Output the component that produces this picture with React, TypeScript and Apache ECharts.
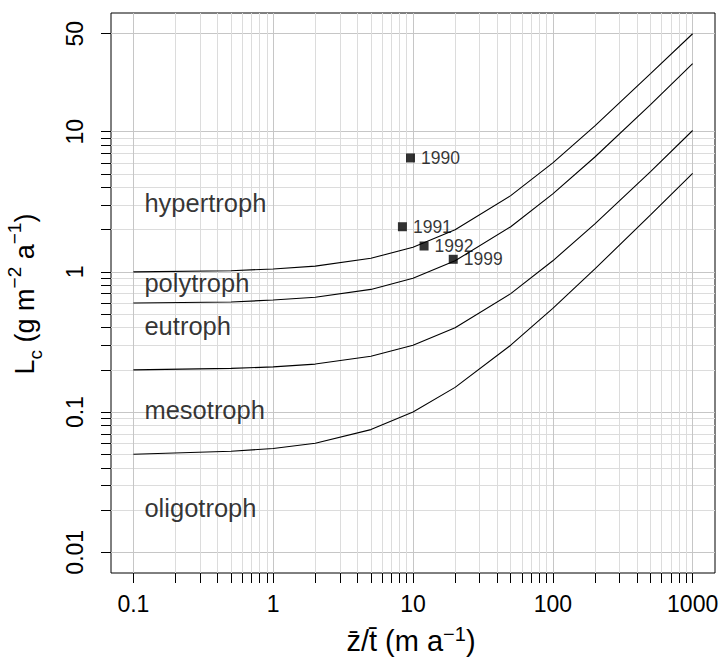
import React, { useEffect, useRef } from "react";
import * as echarts from "echarts";

// ---- data ----
const xPts = [0.1, 0.5, 1, 2, 5, 10, 20, 50, 100, 200, 500, 1000];
const hyperPoly = [1.0, 1.02, 1.05, 1.1, 1.25, 1.5, 2.0, 3.5, 6.0, 11, 26, 50];
const polyEu = [0.6, 0.61, 0.63, 0.66, 0.75, 0.9, 1.2, 2.1, 3.6, 6.6, 15.6, 30.6];
const euMeso = [0.2, 0.205, 0.21, 0.22, 0.25, 0.3, 0.4, 0.7, 1.2, 2.2, 5.2, 10.2];
const mesoOligo = [0.05, 0.0525, 0.055, 0.06, 0.075, 0.1, 0.15, 0.3, 0.55, 1.05, 2.55, 5.05];

const obsYears = ["1990", "1991", "1992", "1999"];
const obsX = [9.6, 8.4, 12.0, 19.4];
const obsY = [6.5, 2.1, 1.53, 1.23];

const zoneNames = ["hypertroph", "polytroph", "eutroph", "mesotroph", "oligotroph"];
const zoneX = [0.12, 0.12, 0.12, 0.12, 0.12];
const zoneY = [3, 0.8, 0.4, 0.1, 0.02];

const xTickLabels = [0.1, 1, 10, 100, 1000];
const yTickLabels = [0.01, 0.1, 1, 10, 50];
const xDecades = [0.1, 1, 10, 100];
const yDecades = [0.01, 0.1, 1];
const multipliers = [1, 2, 3, 4, 5, 6, 7, 8, 9];

const clean = (v: number) => +v.toPrecision(6);
const xTicksAll = [...xDecades.flatMap((d) => multipliers.map((m) => clean(m * d))), 1000];
const yTicksAll = [...yDecades.flatMap((d) => multipliers.map((m) => clean(m * d))), 10, 50];

// R-style 4% axis extension in log space
const ext = (lo: number, hi: number) => {
  const a = Math.log10(lo);
  const b = Math.log10(hi);
  const p = 0.04 * (b - a);
  return [Math.pow(10, a - p), Math.pow(10, b + p)];
};
const [xMin, xMax] = ext(0.1, 1000);
const [yMin, yMax] = ext(0.01, 50);

const FONT = "'Liberation Sans', Arial, Helvetica, sans-serif";
const fmt = (v: number) => String(+Number(v).toPrecision(4));

export default function App() {
  const ref = useRef<HTMLDivElement>(null);
  useEffect(() => {
    if (!ref.current) return;
    const chart = echarts.init(ref.current, null, { renderer: "svg" });
    const lineSeries = (name: string, arr: number[]) => ({
      type: "line",
      name,
      xAxisIndex: 0,
      yAxisIndex: 0,
      data: xPts.map((x, i) => [x, arr[i]]),
      symbol: "none",
      lineStyle: { color: "#000", width: 1.1 },
      z: 3,
    });
    const mkX = (major: boolean) => ({
      type: "log",
      logBase: 10,
      min: xMin,
      max: xMax,
      gridIndex: 0,
      position: "bottom",
      axisLine: { show: false },
      axisTick: major
        ? { show: true, length: 10, customValues: xTicksAll, lineStyle: { color: "#000", width: 1 } }
        : { show: false, customValues: xTickLabels },
      axisLabel: major
        ? {
            show: true,
            customValues: xTickLabels,
            formatter: fmt,
            fontSize: 23,
            fontFamily: FONT,
            color: "#000",
            margin: 19,
          }
        : { show: false },
      splitLine: { show: true, lineStyle: { color: major ? "#dcdcdc" : "#c6c6c6", width: 1 } },
      minorTick: { show: false },
      minorSplitLine: { show: false },
    });
    const mkY = (major: boolean) => ({
      type: "log",
      logBase: 10,
      min: yMin,
      max: yMax,
      gridIndex: 0,
      position: "left",
      axisLine: { show: false },
      axisTick: major
        ? { show: true, length: 10, customValues: yTicksAll, lineStyle: { color: "#000", width: 1 } }
        : { show: false, customValues: yTickLabels },
      axisLabel: major
        ? {
            show: true,
            customValues: yTickLabels,
            formatter: fmt,
            fontSize: 23,
            fontFamily: FONT,
            color: "#000",
            rotate: 90,
            margin: 25,
          }
        : { show: false },
      splitLine: { show: true, lineStyle: { color: major ? "#dcdcdc" : "#c6c6c6", width: 1 } },
      minorTick: { show: false },
      minorSplitLine: { show: false },
    });

    const rich = (size: number, supSize: number, lh: number, supLh: number) => ({
      m: { fontSize: size, fontFamily: FONT, color: "#000", lineHeight: lh, verticalAlign: "middle" },
      s: { fontSize: supSize, fontFamily: FONT, color: "#000", lineHeight: supLh, verticalAlign: "top" },
      c: { fontSize: supSize, fontFamily: FONT, color: "#000", lineHeight: supLh, verticalAlign: "bottom" },
    });

    chart.setOption({
      animation: false,
      backgroundColor: "#fff",
      grid: {
        left: 111,
        right: 9,
        top: 13,
        bottom: 86,
        show: true,
        borderColor: "#000",
        borderWidth: 1,
        backgroundColor: "transparent",
        containLabel: false,
      },
      xAxis: [mkX(true), mkX(false)],
      yAxis: [mkY(true), mkY(false)],
      series: [
        lineSeries("hypertroph/polytroph", hyperPoly),
        lineSeries("polytroph/eutroph", polyEu),
        lineSeries("eutroph/mesotroph", euMeso),
        lineSeries("mesotroph/oligotroph", mesoOligo),
        {
          type: "scatter",
          name: "observations",
          data: obsX.map((x, i) => ({ value: [x, obsY[i]], name: obsYears[i] })),
          symbol: "rect",
          symbolSize: 9,
          itemStyle: { color: "#000" },
          label: {
            show: true,
            position: "right",
            distance: 6,
            formatter: (p: any) => p.name,
            fontSize: 17.5,
            fontFamily: FONT,
            color: "#000",
          },
          z: 4,
        },
        {
          type: "scatter",
          name: "zones",
          data: zoneX.map((x, i) => ({ value: [x, zoneY[i]], name: zoneNames[i] })),
          symbolSize: 0,
          itemStyle: { color: "transparent" },
          label: {
            show: true,
            position: "right",
            distance: 0,
            offset: [0, -2],
            formatter: (p: any) => p.name,
            fontSize: 25.5,
            fontFamily: FONT,
            color: "#000",
          },
          z: 4,
        },
      ],
      graphic: [
        {
          type: "text",
          x: 411,
          y: 641,
          style: {
            text: "{m|z\u0304/t\u0304 (m a}{s|\u22121}{m|)}",
            align: "center",
            verticalAlign: "middle",
            rich: rich(29, 20, 34, 14),
          },
        },
        {
          type: "text",
          x: 25,
          y: 294,
          rotation: Math.PI / 2,
          style: {
            text: "{m|L}{c|c}{m| (g m}{s|\u22122}{m| a}{s|\u22121}{m|)}",
            align: "center",
            verticalAlign: "middle",
            rich: rich(27, 19, 40, 19),
          },
        },
      ],
    });
    return () => chart.dispose();
  }, []);
  return (
    <div
      ref={ref}
      style={{ position: "fixed", left: 0, top: 0, width: 724, height: 659, background: "#fff" }}
    />
  );
}
